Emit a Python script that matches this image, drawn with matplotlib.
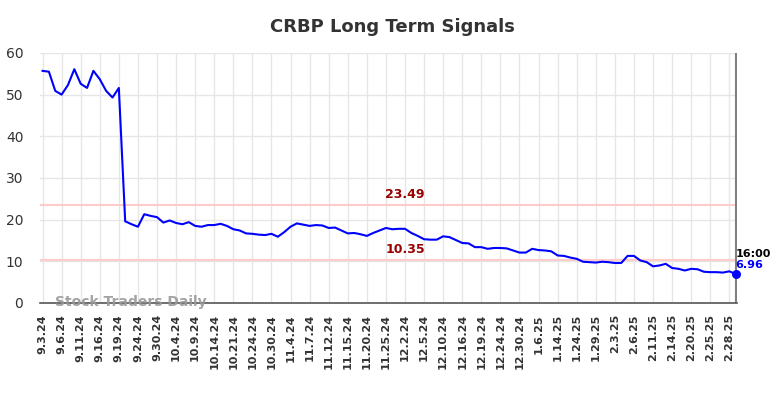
import numpy as np
import matplotlib
matplotlib.use("Agg")
import matplotlib.pyplot as plt

# closing values, one per point
values = [
    55.7, 55.5, 50.9, 50.0, 52.3, 56.1, 52.6, 51.6, 55.7, 53.7,
    50.9, 49.3, 51.6, 19.6, 18.9, 18.3, 21.3, 20.9, 20.6, 19.3,
    19.8, 19.2, 18.9, 19.4, 18.5, 18.3, 18.7, 18.7, 19.0, 18.5,
    17.7, 17.4, 16.7, 16.6, 16.4, 16.3, 16.6, 15.9, 17.0, 18.3,
    19.1, 18.8, 18.5, 18.7, 18.6, 18.0, 18.1, 17.4, 16.7, 16.8,
    16.5, 16.1, 16.8, 17.4, 18.0, 17.7, 17.8, 17.8, 16.8, 16.1,
    15.3, 15.2, 15.2, 16.0, 15.8, 15.1, 14.4, 14.3, 13.4, 13.4,
    13.0, 13.2, 13.2, 13.1, 12.6, 12.1, 12.1, 13.0, 12.7, 12.6,
    12.4, 11.4, 11.3, 10.9, 10.6, 9.9, 9.8, 9.7, 9.9, 9.8,
    9.6, 9.6, 11.3, 11.3, 10.2, 9.8, 8.8, 9.0, 9.4, 8.4,
    8.2, 7.8, 8.2, 8.1, 7.5, 7.4, 7.4, 7.3, 7.6, 6.96,
]

tick_labels = [
    "9.3.24", "9.6.24", "9.11.24", "9.16.24", "9.19.24", "9.24.24", "9.30.24",
    "10.4.24", "10.9.24", "10.14.24", "10.21.24", "10.24.24", "10.30.24",
    "11.4.24", "11.7.24", "11.12.24", "11.15.24", "11.20.24", "11.25.24",
    "12.2.24", "12.5.24", "12.10.24", "12.16.24", "12.19.24", "12.24.24",
    "12.30.24", "1.6.25", "1.14.25", "1.24.25", "1.29.25", "2.3.25",
    "2.6.25", "2.11.25", "2.14.25", "2.20.25", "2.25.25", "2.28.25",
]

upper_level = 23.49
lower_level = 10.35
last_time = "16:00"

x = np.arange(len(values))
tick_pos = np.arange(0, len(values), 3)[:len(tick_labels)]

fig = plt.figure(figsize=(7.84, 3.98), dpi=100)
ax = fig.add_axes([0.051, 0.2387, 0.889, 0.6283])

ax.plot(x, values, color="blue", linewidth=1.5, zorder=3)
ax.scatter([x[-1]], [values[-1]], color="blue", s=30, zorder=4, clip_on=False)

# signal levels
ax.axhline(upper_level, color="#ffcccc", linewidth=1.5, zorder=2)
ax.axhline(lower_level, color="#ffcccc", linewidth=1.5, zorder=2)
mid = 57
ax.text(mid, upper_level + 0.9, f"{upper_level:.2f}", color="#990000",
        fontsize=9, fontweight="bold", ha="center", va="bottom")
ax.text(mid, lower_level + 0.9, f"{lower_level:.2f}", color="#990000",
        fontsize=9, fontweight="bold", ha="center", va="bottom")

# last value marker
ax.axvline(x[-1], color="gray", linewidth=1.5, zorder=2)
ax.text(x[-1], values[-1] + 3.6, last_time, color="black", fontsize=8,
        fontweight="bold", ha="left", va="bottom")
ax.text(x[-1], values[-1] + 1.0, f"{values[-1]:.2f}", color="blue", fontsize=8,
        fontweight="bold", ha="left", va="bottom")

ax.text(2, 0.2, "Stock Traders Daily", color="#999999", fontsize=10,
        fontweight="bold", ha="left", va="center", alpha=0.9)

ax.set_xlim(-0.4, x[-1] + 0.2)
ax.set_ylim(0, 60)
ax.set_yticks(range(0, 61, 10))
ax.set_xticks(tick_pos)
ax.set_xticklabels(tick_labels, rotation=90, fontsize=8, fontweight="bold",
                   color="#333333")
ax.tick_params(axis="y", labelsize=10, colors="#333333", length=0, pad=12)
ax.tick_params(axis="x", length=0, pad=8)
ax.grid(True, color="#e6e6e6", linewidth=1, zorder=0)
ax.set_axisbelow(True)
for side in ("top", "right", "left"):
    ax.spines[side].set_visible(False)
ax.spines["bottom"].set_color("#555555")
ax.spines["bottom"].set_linewidth(1.2)

fig.suptitle("CRBP Long Term Signals", x=0.5, y=0.955, fontsize=13,
             fontweight="bold", color="#333333")

fig.savefig("out.png", dpi=100)
